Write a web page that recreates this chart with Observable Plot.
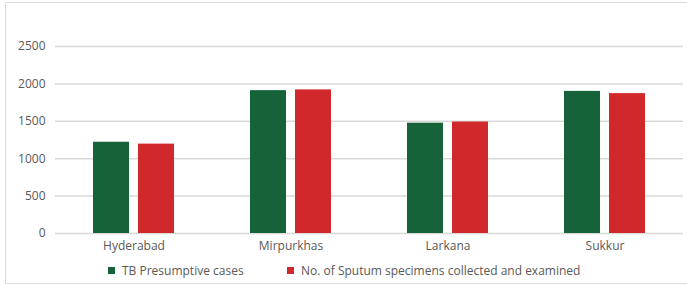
<!DOCTYPE html>
<html>
<head>
<meta charset="utf-8">
<script src="https://cdn.jsdelivr.net/npm/d3@7"></script>
<script src="https://cdn.jsdelivr.net/npm/@observablehq/plot@0.6"></script>
<style>
  html, body { margin: 0; padding: 0; background: #fff; width: 687px; height: 287px; overflow: hidden; }
  body { position: relative; font-family: "Open Sans", sans-serif; }
  #frame { position: absolute; left: 5px; top: 2px; width: 700px; height: 282px; border: 1.5px solid #dcdcdc; box-sizing: border-box; }
  #chart { position: absolute; left: 0; top: 0; }
  .leg { position: absolute; top: 262px; font-size: 12px; color: #595959; display: flex; align-items: center; white-space: nowrap; }
  .sw { width: 7px; height: 7px; margin-right: 7px; display: inline-block; }
</style>
</head>
<body>
<div id="frame"></div>
<div id="chart"></div>
<div class="leg" style="left:108px"><span class="sw" style="background:#16633a"></span>TB Presumptive cases</div>
<div class="leg" style="left:287px"><span class="sw" style="background:#d1282b"></span>No. of Sputum specimens collected and examined</div>
<script>
const categories = ["Hyderabad", "Mirpurkhas", "Larkana", "Sukkur"];
const seriesNames = ["TB Presumptive cases", "No. of Sputum specimens collected and examined"];
const presumptive = [1220, 1910, 1475, 1900];
const sputum = [1195, 1920, 1490, 1870];
const yTicks = [0, 500, 1000, 1500, 2000, 2500];
const colors = ["#16633a", "#d1282b"];

const data = [];
categories.forEach((c, i) => {
  data.push({category: c, series: seriesNames[0], value: presumptive[i]});
  data.push({category: c, series: seriesNames[1], value: sputum[i]});
});

const chart = Plot.plot({
  width: 687,
  height: 258,
  marginLeft: 54,
  marginRight: 4,
  marginTop: 46,
  marginBottom: 25,
  style: {fontFamily: "Open Sans, sans-serif", fontSize: "12px", color: "#595959", background: "transparent"},
  fx: {domain: categories, padding: 0, label: null},
  x: {domain: seriesNames, paddingInner: 0.2, paddingOuter: 0.844, axis: null},
  y: {domain: [0, 2500], ticks: yTicks, label: null},
  color: {domain: seriesNames, range: colors},
  marks: [
    Plot.gridY(yTicks, {stroke: "#d9d9d9", strokeOpacity: 1, strokeWidth: 1.5}),
    Plot.axisY(yTicks, {tickSize: 0, tickPadding: 10, label: null, fill: "#595959", fontSize: 12, tickFormat: d => String(d)}),
    Plot.axisFx({anchor: "bottom", tickSize: 0, tickPadding: 8, label: null, fill: "#595959", fontSize: 12}),
    Plot.barY(data, {fx: "category", x: "series", y: "value", fill: "series"})
  ]
});
document.getElementById("chart").appendChild(chart);
</script>
</body>
</html>
